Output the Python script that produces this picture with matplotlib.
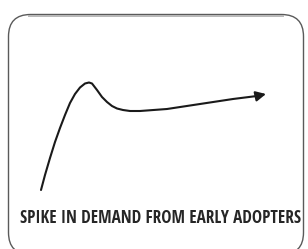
import matplotlib
matplotlib.use("Agg")
import matplotlib.pyplot as plt
from matplotlib.patches import FancyBboxPatch
from matplotlib import font_manager

# curve (pixel coords, y grows downward)
curve_x = [41, 45, 50, 55, 60, 65, 70, 75, 80, 85, 89, 92, 97, 102, 107, 112,
           117, 123, 130, 140, 167, 200, 233, 257]
curve_y = [190, 175, 158, 142, 128, 115, 103, 94, 87.5, 83.5, 82.5, 83.5, 90, 97,
           102, 106, 108.5, 110, 111, 111, 109, 104, 99, 96]
arrow_tip = (266, 94)
label = "SPIKE IN DEMAND FROM EARLY ADOPTERS"

names = {f.name for f in font_manager.fontManager.ttflist}
fam = "DejaVu Sans"
for cand in ["Open Sans Condensed", "Barlow Semi Condensed", "Archivo Narrow",
             "Roboto Condensed", "Asap Condensed"]:
    if cand in names:
        fam = cand
        break

fig = plt.figure(figsize=(3.08, 2.49), dpi=100)
ax = fig.add_axes([0, 0, 1, 1])
ax.set_xlim(0, 308)
ax.set_ylim(249, 0)
ax.axis("off")

box = FancyBboxPatch((8.5, 14.5), 295, 240,
                     boxstyle="round,pad=0,rounding_size=22",
                     fc="white", ec="#5a5a5a", lw=1.0)
ax.add_patch(box)
ax.plot([28, 284], [15.6, 15.6], color="#b8b8b8", lw=1.4, solid_capstyle="butt")

ax.plot(curve_x, curve_y, color="#1a1a1a", lw=1.5, solid_capstyle="round",
        solid_joinstyle="round")
ax.annotate("", xy=arrow_tip, xytext=(curve_x[-1], curve_y[-1]),
            arrowprops=dict(arrowstyle="-|>,head_length=0.6,head_width=0.3",
                            color="#1a1a1a", lw=1.5, shrinkA=0, shrinkB=0))

t = ax.text(160, 218, label, ha="center", va="center", fontsize=14,
            fontweight="semibold", family=fam, color="#262626")
fig.canvas.draw()
r = fig.canvas.get_renderer()
w = t.get_window_extent(r).width
t.set_fontsize(14 * 280.0 / w)

fig.savefig("out.png", dpi=100)
